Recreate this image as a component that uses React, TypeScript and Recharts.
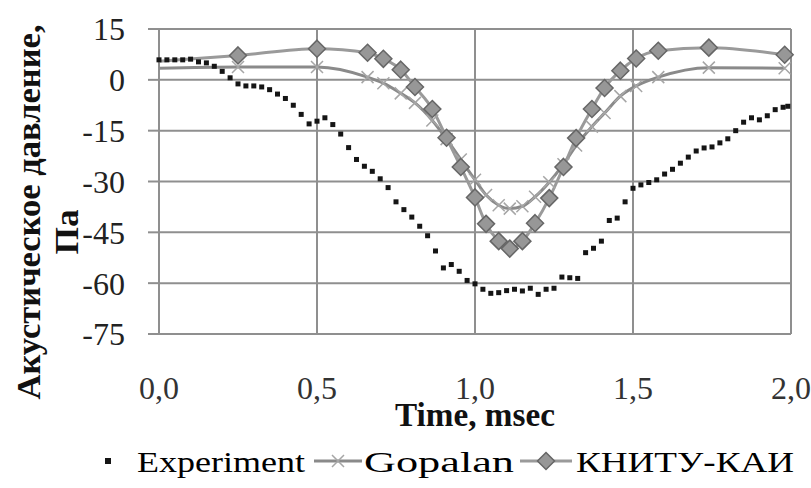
import React from "react";
import { LineChart, Line, XAxis, YAxis, CartesianGrid, Legend, Label } from "recharts";

const SERIF = '"Liberation Serif", "Times New Roman", serif';

// experiment, time in msec / pressure in Pa
const experimentTime = [
  0, 0.025, 0.05, 0.075, 0.1, 0.125, 0.15, 0.175, 0.2, 0.225,
  0.25, 0.275, 0.3, 0.325, 0.35, 0.375, 0.4, 0.425, 0.45, 0.475,
  0.5, 0.525, 0.55, 0.575, 0.6, 0.625, 0.65, 0.675, 0.7, 0.725,
  0.75, 0.775, 0.8, 0.825, 0.85, 0.875, 0.9, 0.925, 0.95, 0.975,
  1.0, 1.025, 1.05, 1.075, 1.1, 1.125, 1.15, 1.175, 1.2, 1.225,
  1.25, 1.275, 1.3, 1.325, 1.35, 1.375, 1.4, 1.425, 1.45, 1.475,
  1.5, 1.525, 1.55, 1.575, 1.6, 1.625, 1.65, 1.675, 1.7, 1.725,
  1.75, 1.775, 1.8, 1.825, 1.85, 1.875, 1.9, 1.925, 1.95, 1.975, 1.99,
];
const experimentPressure = [
  5.9, 5.9, 5.9, 5.9, 6.1, 5.3, 5.0, 4.0, 2.5, 0.6,
  -1.2, -1.8, -1.8, -2.1, -2.9, -4.2, -5.5, -7.5, -10.2, -13,
  -12.2, -11.2, -13.2, -16, -20, -23.5, -25.5, -27, -29.2, -31.8,
  -36, -38.3, -40.5, -43.2, -46, -50.5, -55.5, -54.5, -56.5, -59.2,
  -60.2, -61.8, -63, -62.8, -62.2, -61.8, -62.3, -61.5, -63.3, -61.8,
  -61.5, -58.2, -58.4, -58.6, -51, -49.7, -47.6, -41.5, -40.8, -36,
  -32, -31, -30.3, -29.5, -27.8, -26.4, -24.6, -22.8, -21, -20.1,
  -19.8, -18.6, -17.4, -15, -12.5, -11.2, -11.8, -10.6, -8.8, -8.1, -7.8,
];

// model curves share the same time points
const modelTime = [
  0, 0.25, 0.5, 0.66, 0.71, 0.765, 0.81, 0.865, 0.91, 0.955, 1.0, 1.035, 1.075,
  1.11, 1.15, 1.19, 1.235, 1.28, 1.32, 1.37, 1.41, 1.46, 1.51, 1.58, 1.74, 1.98,
];
const gopalanPressure = [
  3.4, 3.8, 3.8, 0.8, -1.0, -4.0, -6.8, -12, -17.5, -23.5, -29.5, -34, -37,
  -38, -37.3, -34.5, -30.2, -24.9, -19.4, -13.8, -9.8, -4.8, -1.8, 0.8, 3.6, 3.4,
];
const knituPressure = [
  5.5, 7.2, 9.2, 8.0, 6.2, 3.0, -2.1, -8.6, -17.1, -25.7, -34.7, -42.5, -47.6,
  -49.8, -47.6, -42.3, -34.9, -25.7, -17.2, -8.6, -2.4, 2.7, 6.3, 8.6, 9.5, 7.4,
];

const xTicks = [0, 0.5, 1, 1.5, 2];
const yTicks = [15, 0, -15, -30, -45, -60, -75];
const seriesNames = ["Experiment", "Gopalan", "КНИТУ-КАИ"];

const experimentData = experimentTime.map((t, i) => ({ t, v: experimentPressure[i] }));
const gopalanData = modelTime.map((t, i) => ({ t, v: gopalanPressure[i] }));
const knituData = modelTime.map((t, i) => ({ t, v: knituPressure[i] }));

const GRID = "#8f8f8f";

function SquareDot(p: any) {
  return <rect key={`e${p.index}`} x={p.cx - 2.5} y={p.cy - 2.5} width={5} height={5} fill="#151515" />;
}

function CrossDot(p: any) {
  if (p.index === 0) return <g key={`g${p.index}`} />;
  const { cx, cy } = p;
  const s = 6;
  return (
    <path
      key={`g${p.index}`}
      d={`M${cx - s},${cy - s}L${cx + s},${cy + s}M${cx - s},${cy + s}L${cx + s},${cy - s}`}
      stroke="#a6a6a6"
      strokeWidth={1.5}
      fill="none"
    />
  );
}

function DiamondDot(p: any) {
  if (p.index === 0) return <g key={`k${p.index}`} />;
  const { cx, cy } = p;
  const s = 8.5;
  return (
    <polygon
      key={`k${p.index}`}
      points={`${cx},${cy - s} ${cx + s},${cy} ${cx},${cy + s} ${cx - s},${cy}`}
      fill="#979797"
      stroke="#666"
      strokeWidth={1.5}
    />
  );
}

function YTitle() {
  return (
    <g fontFamily={SERIF} fontWeight="bold" fill="#111">
      <text x={40} y={212} transform="rotate(-90 40 212)" textAnchor="middle" fontSize={34}
        textLength={375} lengthAdjust="spacingAndGlyphs">
        Акустическое давление,
      </text>
      <text x={78} y={232} transform="rotate(-90 78 232)" textAnchor="middle" fontSize={34}
        textLength={45} lengthAdjust="spacingAndGlyphs">
        Па
      </text>
    </g>
  );
}

function XTitle() {
  return (
    <text x={475} y={426} textAnchor="middle" fontFamily={SERIF} fontWeight="bold" fontSize={33}
      fill="#111" textLength={160} lengthAdjust="spacingAndGlyphs">
      Time, msec
    </text>
  );
}

function LegendBox() {
  const y = 21;
  const base = 32;
  return (
    <svg width={811} height={44} style={{ display: "block" }}>
      <g fontFamily={SERIF} fontSize={30} fill="#000">
        <rect x={105} y={y - 3} width={6} height={6} fill="#151515" />
        <text x={137} y={base} textLength={168} lengthAdjust="spacingAndGlyphs">{seriesNames[0]}</text>

        <line x1={314} x2={362} y1={y} y2={y} stroke="#8a8a8a" strokeWidth={3} />
        <CrossDot cx={338} cy={y} index={1} />
        <text x={364} y={base} textLength={150} lengthAdjust="spacingAndGlyphs">{seriesNames[1]}</text>

        <line x1={520} x2={572} y1={y} y2={y} stroke="#9a9a9a" strokeWidth={3} />
        <DiamondDot cx={546} cy={y} index={1} />
        <text x={576} y={base} textLength={218} lengthAdjust="spacingAndGlyphs">{seriesNames[2]}</text>
      </g>
    </svg>
  );
}

export default function App() {
  return (
    <div style={{ position: "absolute", left: 0, top: 0, width: 811, height: 488, background: "#fff" }}>
      <LineChart width={811} height={488} margin={{ top: 29, right: 20, bottom: 0, left: 0 }}>
        <CartesianGrid stroke={GRID} strokeWidth={2} />
        <XAxis
          dataKey="t"
          type="number"
          domain={[0, 2]}
          ticks={xTicks}
          height={154}
          axisLine={false}
          tickLine={false}
          tickSize={0}
          tickMargin={42}
          tickFormatter={(v: number) => v.toFixed(1).replace(".", ",")}
          tick={{ fontSize: 32, fill: "#333", fontFamily: SERIF }}
        >
          <Label content={XTitle} />
        </XAxis>
        <YAxis
          type="number"
          domain={[-75, 15]}
          ticks={yTicks}
          width={159}
          axisLine={false}
          tickLine={{ stroke: GRID, strokeWidth: 2 }}
          tickSize={11}
          tickMargin={23}
          tick={{ fontSize: 32, fill: "#222", fontFamily: SERIF }}
        >
          <Label content={YTitle} />
        </YAxis>
        <Line
          name={seriesNames[0]}
          data={experimentData}
          dataKey="v"
          stroke="none"
          dot={SquareDot}
          activeDot={false}
          isAnimationActive={false}
        />
        <Line
          name={seriesNames[1]}
          data={gopalanData}
          dataKey="v"
          type="monotone"
          stroke="#8a8a8a"
          strokeWidth={3}
          dot={CrossDot}
          activeDot={false}
          isAnimationActive={false}
        />
        <Line
          name={seriesNames[2]}
          data={knituData}
          dataKey="v"
          type="monotone"
          stroke="#9a9a9a"
          strokeWidth={3}
          dot={DiamondDot}
          activeDot={false}
          isAnimationActive={false}
        />
        <Legend
          layout="horizontal"
          verticalAlign="middle"
          align="center"
          content={LegendBox}
          wrapperStyle={{ left: 0, top: 440, width: 811, height: 44 }}
        />
      </LineChart>
    </div>
  );
}
